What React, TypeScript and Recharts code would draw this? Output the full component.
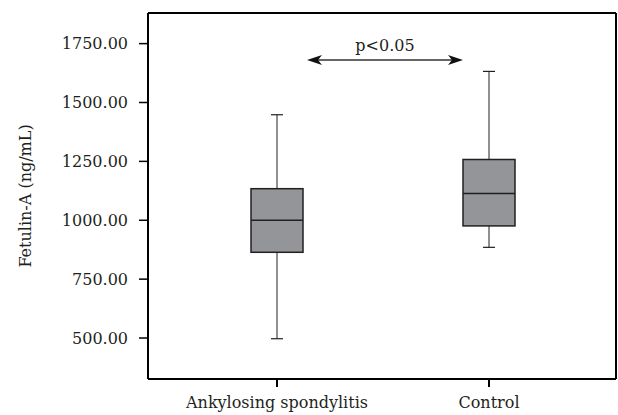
import { Bar, ComposedChart, ReferenceLine, XAxis, YAxis } from "recharts";

const groups = ["Ankylosing spondylitis", "Control"];
const minimum = [497, 885];
const lowerQuartile = [864, 976];
const median = [1000, 1114];
const upperQuartile = [1134, 1258];
const maximum = [1448, 1632];
const yTicks = [500, 750, 1000, 1250, 1500, 1750];
const pValueLevel = 1680;
const pValueText = "p<0.05";

const FONT = "'DejaVu Serif', serif";
const INK = "#231f20";

const data = groups.map((name, i) => ({
  name,
  span: [minimum[i], maximum[i]],
  min: minimum[i],
  q1: lowerQuartile[i],
  med: median[i],
  q3: upperQuartile[i],
  max: maximum[i],
}));

const BoxShape = (props: any) => {
  const { x, y, width, height, payload } = props;
  const { min, q1, med, q3, max } = payload;
  const top = Math.min(y, y + height);
  const h = Math.abs(height);
  const py = (v: number) => top + ((max - v) / (max - min)) * h;
  const cx = x + width / 2;
  const cap = 6;
  return (
    <g>
      <line x1={cx} x2={cx} y1={py(max)} y2={py(q3)} stroke={INK} strokeWidth={1} />
      <line x1={cx} x2={cx} y1={py(q1)} y2={py(min)} stroke={INK} strokeWidth={1} />
      <line x1={cx - cap} x2={cx + cap} y1={py(max)} y2={py(max)} stroke={INK} strokeWidth={1.2} />
      <line x1={cx - cap} x2={cx + cap} y1={py(min)} y2={py(min)} stroke={INK} strokeWidth={1.2} />
      <rect x={x} y={py(q3)} width={width} height={py(q1) - py(q3)} fill="#939598" stroke={INK} strokeWidth={1.5} />
      <line x1={x} x2={x + width} y1={py(med)} y2={py(med)} stroke={INK} strokeWidth={1.5} />
    </g>
  );
};

// double-headed arrow between the two groups, inset from the box centres
const ArrowShape = (props: any) => {
  const { x1, x2, y1 } = props;
  const a = x1 + 30;
  const b = x2 - 26;
  const y = y1;
  return (
    <g>
      <line x1={a + 6} x2={b - 6} y1={y} y2={y} stroke="#333" strokeWidth={1.5} />
      <path d={`M${a},${y} L${a + 15},${y - 5} L${a + 11},${y} L${a + 15},${y + 5} Z`} fill="#111" />
      <path d={`M${b},${y} L${b - 15},${y - 5} L${b - 11},${y} L${b - 15},${y + 5} Z`} fill="#111" />
      <text x={(a + b) / 2} y={y - 9} textAnchor="middle" fontFamily={FONT} fontSize={16} fill={INK}>
        {pValueText}
      </text>
    </g>
  );
};

const YLabel = (props: any) => {
  const { viewBox } = props;
  const cy = viewBox.y + viewBox.height / 2;
  return (
    <text
      transform={`translate(31, ${cy}) rotate(-90)`}
      textAnchor="middle"
      fontFamily={FONT}
      fontSize={16}
      fill={INK}
    >
      Fetulin-A (ng/mL)
    </text>
  );
};

export default function App() {
  return (
    <div style={{ position: "absolute", left: 0, top: 0, background: "#fff" }}>
      <ComposedChart width={618} height={415} data={data} margin={{ top: 12, right: 1, bottom: 0, left: 0 }}>
        <XAxis
          dataKey="name"
          padding={{ left: 23, right: 21 }}
          height={36}
          tickSize={8}
          tickMargin={10}
          axisLine={{ stroke: "#000", strokeWidth: 2 }}
          tickLine={{ stroke: "#000", strokeWidth: 2 }}
          tick={{ fill: INK, fontSize: 16, fontFamily: FONT }}
        />
        <XAxis xAxisId="top" dataKey="name" orientation="top" height={1} tick={false} tickLine={false} axisLine={{ stroke: "#000", strokeWidth: 2 }} />
        <YAxis
          type="number"
          domain={[326, 1880]}
          ticks={yTicks}
          allowDataOverflow
          width={148}
          tickSize={9}
          tickMargin={11}
          tickFormatter={(v: number) => v.toFixed(2)}
          axisLine={{ stroke: "#000", strokeWidth: 2 }}
          tickLine={{ stroke: "#000", strokeWidth: 1.5 }}
          tick={{ fill: INK, fontSize: 16, fontFamily: FONT }}
          label={<YLabel />}
        />
        <YAxis yAxisId="right" orientation="right" width={1} domain={[0, 1]} tick={false} tickLine={false} axisLine={{ stroke: "#000", strokeWidth: 2 }} />
        <Bar dataKey="span" barSize={52} shape={<BoxShape />} isAnimationActive={false} />
        <ReferenceLine
          segment={[
            { x: groups[0], y: pValueLevel },
            { x: groups[1], y: pValueLevel },
          ]}
          shape={<ArrowShape />}
        />
      </ComposedChart>
    </div>
  );
}
